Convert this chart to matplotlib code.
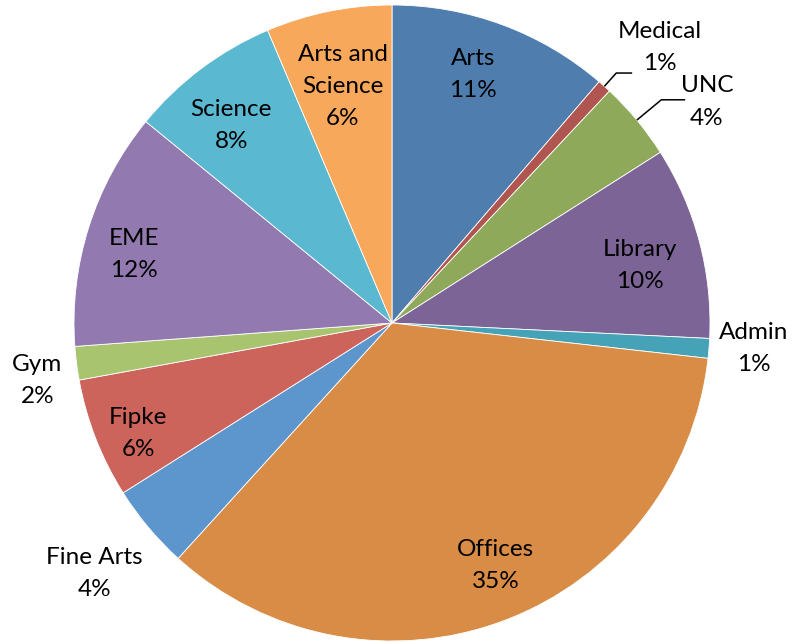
import numpy as np
import matplotlib
matplotlib.use("Agg")
import matplotlib.pyplot as plt

# slice data, clockwise from 12 o'clock
labels = ["Arts", "Medical", "UNC", "Library", "Admin", "Offices",
          "Fine Arts", "Fipke", "Gym", "EME", "Science", "Arts and\nScience"]
values = [11.3, 0.7, 4.0, 9.8, 1.0, 35.0, 4.3, 6.1, 1.7, 12.1, 7.7, 6.4]

colors = ["#4E7DAE", "#B0554F", "#8FA95A", "#7C6496", "#46A2B6", "#D88C46",
          "#5D96CC", "#CD645C", "#A9C46F", "#927AB0", "#5AB8D0", "#F8A85A"]

# label placement: (radius, clockwise shift in degrees from slice middle)
label_place = [(0.822, -2.3), (1.21, 2.3), (1.21, 4.6), (0.80, 1.8), (1.14, -0.6),
               (0.83, -2.5), (1.225, -0.1), (0.87, -2.2), (1.13, -1.9), (0.84, -2.7),
               (0.80, -2.3), (0.76, -0.3)]
# leader lines for the thin slices (index, elbow radius, horizontal length)
leaders = [(1, 1.056, 0.05), (2, 1.10, 0.075)]

plt.rcParams['font.family'] = ['Lato', 'DejaVu Sans']

fig = plt.figure(figsize=(7.93, 6.42), dpi=100)
W, H = 793, 642
cx, cy, R = 392, 323, 318
ax = fig.add_axes([(cx - R) / W, (H - cy - R) / H, 2 * R / W, 2 * R / H])

wedges, _ = ax.pie(values, colors=colors, startangle=90, counterclock=False,
                   radius=1.0, center=(0, 0), frame=True,
                   wedgeprops=dict(edgecolor="white", linewidth=0.6))
ax.set_xlim(-1, 1)
ax.set_ylim(-1, 1)
ax.axis("off")

total = sum(values)
for i, w in enumerate(wedges):
    mid = (w.theta1 + w.theta2) / 2
    r, shift = label_place[i]
    a = np.radians(mid - shift)
    pct = round(values[i] / total * 100)
    ax.text(r * np.cos(a), r * np.sin(a), f"{labels[i]}\n{pct}%",
            ha="center", va="center", fontsize=17.5, linespacing=1.65,
            color="black", clip_on=False)

for i, re, hl in leaders:
    w = wedges[i]
    a = np.radians((w.theta1 + w.theta2) / 2)
    x0, y0 = np.cos(a), np.sin(a)
    x1, y1 = re * np.cos(a), re * np.sin(a)
    ax.plot([x0, x1, x1 + hl], [y0, y1, y1], color="black", lw=1.1,
            clip_on=False, solid_capstyle="butt")

fig.savefig("out.png", dpi=100)
